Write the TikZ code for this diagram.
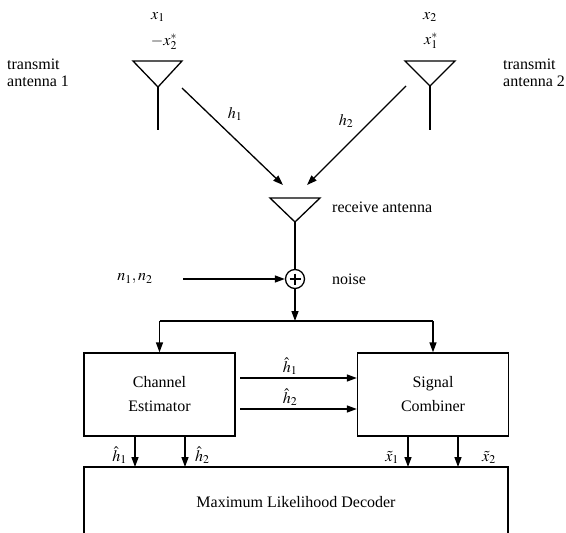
\documentclass[tikz,border=0pt]{standalone}
\usepackage{mathptmx}
\usepackage{fontspec}
\setmainfont{Liberation Serif}
\usetikzlibrary{arrows.meta,calc}
\tikzset{
  lbl/.style={inner sep=0pt, font=\fontsize{16}{19}\selectfont},
  ln/.style={line width=1.3pt},
  arr/.style={ln, -{Triangle[length=10pt,width=7pt]}},
  blk/.style={draw, line width=1.3pt, minimum width=151pt, minimum height=83pt, align=center, inner sep=0pt, font=\fontsize{16}{24}\selectfont},
  ant/.style={line width=1.3pt, line join=miter}
}
\begin{document}
\begin{tikzpicture}[x=1pt,y=-1pt]
\useasboundingbox (0,0) rectangle (566,533);
% transmit antenna 1
\coordinate (a1l) at (133,61); \coordinate (a1r) at (182,61); \coordinate (a1p) at (158,87); \coordinate (a1b) at (158,130);
\draw[ant] (a1l) -- (a1r) -- (a1p) -- cycle; \draw[ant] (a1p) -- (a1b);
% transmit antenna 2
\coordinate (a2l) at (405,61); \coordinate (a2r) at (455,61); \coordinate (a2p) at (430,86); \coordinate (a2b) at (430,130);
\draw[ant] (a2l) -- (a2r) -- (a2p) -- cycle; \draw[ant] (a2p) -- (a2b);
% receive antenna
\coordinate (rl) at (270,198); \coordinate (rr) at (320,198); \coordinate (rp) at (295,222);
\draw[ant] (rl) -- (rr) -- (rp) -- cycle;
% labels top
\node[lbl] (x1) at (158,17) {$x_1$};
\node[lbl] (x2s) at (164,42) {$-x_2^*$};
\node[lbl] (x2) at (430,17) {$x_2$};
\node[lbl] (x1s) at (431,41) {$x_1^*$};
\node[lbl, anchor=west, align=left, font=\fontsize{16}{17}\selectfont] (t1) at (7,73) {transmit\\antenna 1};
\node[lbl, anchor=west, align=left, font=\fontsize{16}{17}\selectfont] (t2) at (503,73) {transmit\\antenna 2};
% channel arrows
\coordinate (h1s) at (182,88); \coordinate (h1e) at (283,185);
\coordinate (h2s) at (406,86); \coordinate (h2e) at (307,185);
\draw[arr] (h1s) -- (h1e);
\draw[arr] (h2s) -- (h2e);
\node[lbl] (h1) at (235,114) {$h_1$};
\node[lbl] (h2) at (346,121) {$h_2$};
\node[lbl, anchor=west] (ra) at (332,207) {receive antenna};
% adder
\node[draw, circle, line width=1.3pt, minimum size=19pt, inner sep=0pt] (add) at (295,279) {};
\draw[line width=1.1pt] ($(add.center)+(-5.5,0)$) -- ($(add.center)+(5.5,0)$);
\draw[line width=1.1pt] ($(add.center)+(0,-5.5)$) -- ($(add.center)+(0,5.5)$);
\draw[ln] (rp) -- (add.north);
\node[lbl] (n) at (135,279) {$n_1, n_2$};
\coordinate (ns) at (183,279);
\draw[arr] (ns) -- (add.west);
\node[lbl, anchor=west] (noise) at (332,279) {noise};
% blocks
\node[blk] (ce) at (159.5,394.5) {Channel\\Estimator};
\node[blk] (sc) at (433,394.5) {Signal\\Combiner};
\coordinate (j) at (295,321);
\coordinate (jl) at (ce.north |- j); \coordinate (jr) at (sc.north |- j);
\draw[arr] (add.south) -- (j);
\draw[ln] (jl) -- (jr);
\draw[arr] (jl) -- (ce.north);
\draw[arr] (jr) -- (sc.north);
% estimates to combiner
\coordinate (e1) at (240,378); \coordinate (e2) at (240,409);
\draw[arr] (e1) -- (sc.west |- e1);
\draw[arr] (e2) -- (sc.west |- e2);
\node[lbl, anchor=south] (eh1) at (290,375) {$\hat{h}_1$};
\node[lbl, anchor=south] (eh2) at (290,406) {$\hat{h}_2$};
% decoder
\node[lbl] (mld) at (296,502) {Maximum Likelihood Decoder};
\coordinate (mtl) at (84,467); \coordinate (mtr) at (508,467);
\draw[ln] (84,534) -- (mtl) -- (mtr) -- (508,534);
\coordinate (m1) at (135,467); \coordinate (m2) at (185,467);
\coordinate (m3) at (408,467); \coordinate (m4) at (458,467);
\draw[arr] (ce.south -| m1) -- (m1);
\draw[arr] (ce.south -| m2) -- (m2);
\draw[arr] (sc.south -| m3) -- (m3);
\draw[arr] (sc.south -| m4) -- (m4);
\node[lbl, anchor=south east] (lh1) at (127,464) {$\hat{h}_1$};
\node[lbl, anchor=south west] (lh2) at (195,464) {$\hat{h}_2$};
\node[lbl, anchor=south east] (lx1) at (399,464) {$\tilde{x}_1$};
\node[lbl, anchor=south west] (lx2) at (482,464) {$\tilde{x}_2$};
\end{tikzpicture}
\end{document}
